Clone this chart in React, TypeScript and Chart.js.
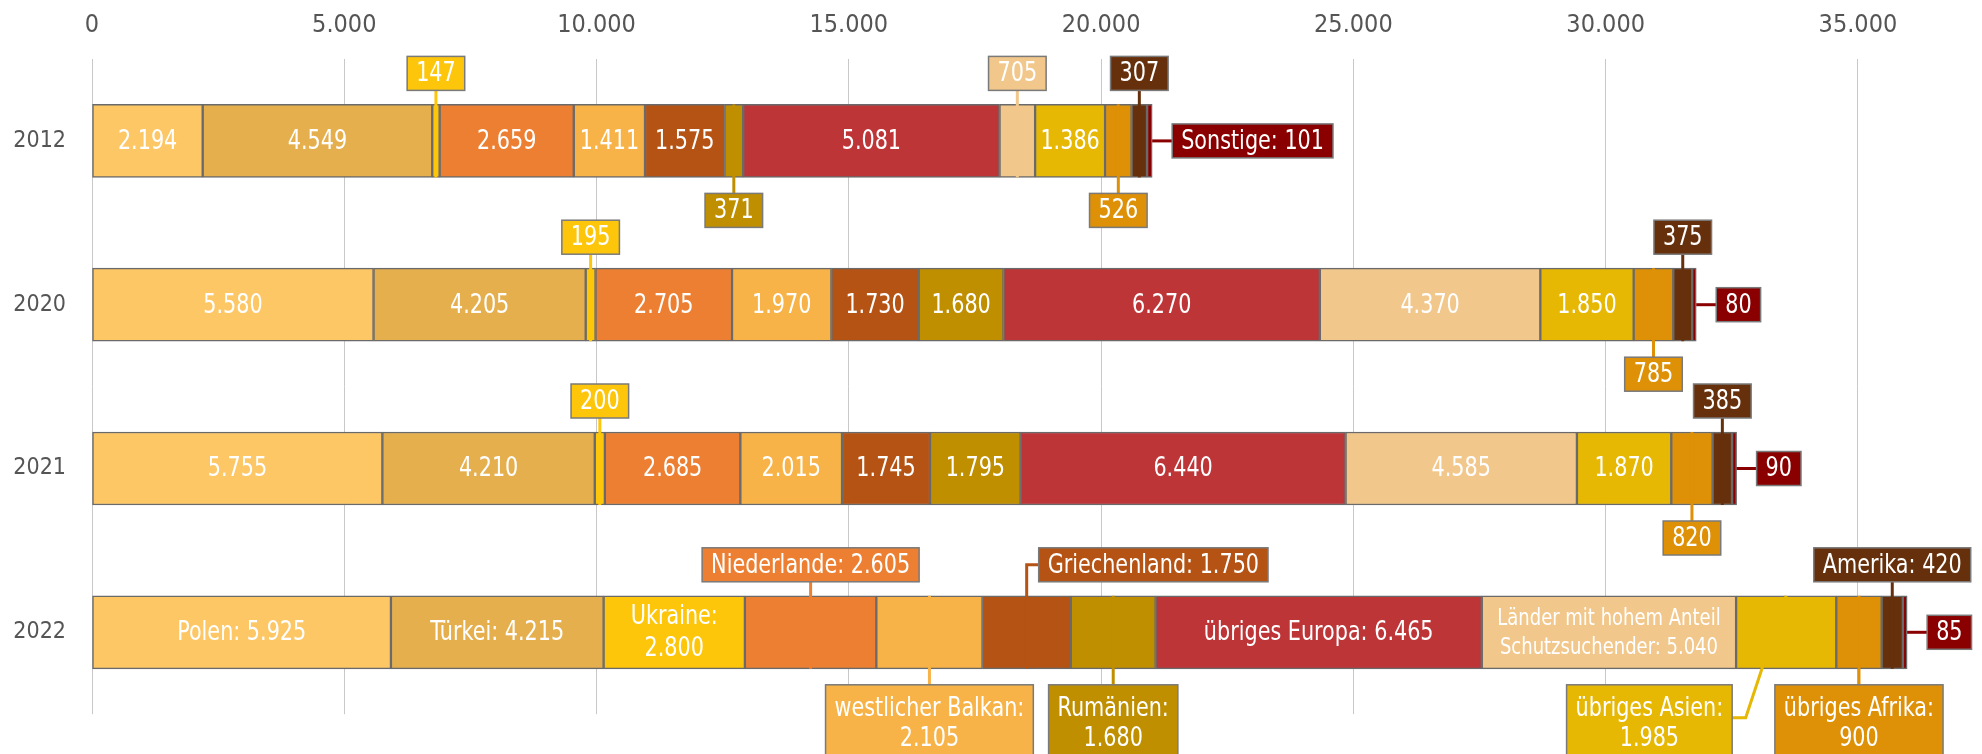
import React, { useEffect, useRef } from 'react';
import { Chart, registerables } from 'chart.js';

Chart.register(...registerables);

// ---------- data ----------
const years = ['2012', '2020', '2021', '2022'];
const seriesNames = [
  'Polen',
  'Türkei',
  'Ukraine',
  'Niederlande',
  'westlicher Balkan',
  'Griechenland',
  'Rumänien',
  'übriges Europa',
  'Länder mit hohem Anteil Schutzsuchender',
  'übriges Asien',
  'übriges Afrika',
  'Amerika',
  'Sonstige',
];
const polen = [2194, 5580, 5755, 5925];
const tuerkei = [4549, 4205, 4210, 4215];
const ukraine = [147, 195, 200, 2800];
const niederlande = [2659, 2705, 2685, 2605];
const westlicherBalkan = [1411, 1970, 2015, 2105];
const griechenland = [1575, 1730, 1745, 1750];
const rumaenien = [371, 1680, 1795, 1680];
const uebrigesEuropa = [5081, 6270, 6440, 6465];
const schutzLaender = [705, 4370, 4585, 5040];
const uebrigesAsien = [1386, 1850, 1870, 1985];
const uebrigesAfrika = [526, 785, 820, 900];
const amerika = [307, 375, 385, 420];
const sonstige = [101, 80, 90, 85];
const xTickValues = [0, 5000, 10000, 15000, 20000, 25000, 30000, 35000];

const seriesValues = [
  polen, tuerkei, ukraine, niederlande, westlicherBalkan, griechenland, rumaenien,
  uebrigesEuropa, schutzLaender, uebrigesAsien, uebrigesAfrika, amerika, sonstige,
];

// ---------- style ----------
const colors = [
  '#FDC766', '#E6AF4E', '#FDC60A', '#EC7F32', '#F7B347', '#B55314', '#BF8F00',
  '#BE3538', '#F2C78B', '#E6B703', '#DE9006', '#67300C', '#8A0000',
];
const FONT = '"DejaVu Sans Condensed", "Liberation Sans Narrow", sans-serif';
const LABEL_SIZE = 26.5;
const SMALL_SIZE = 23;
const SQUEEZE = 0.87; // horizontal condensing of label text

// callout layout (which segments are labelled outside the bar and where)
type Callout = { s: number; i: number; pos: 'top' | 'bottom' | 'right'; elbow?: 'side' | 'diag' };
const callouts: Callout[] = [
  { s: 2, i: 0, pos: 'top' },
  { s: 6, i: 0, pos: 'bottom' },
  { s: 8, i: 0, pos: 'top' },
  { s: 10, i: 0, pos: 'bottom' },
  { s: 11, i: 0, pos: 'top' },
  { s: 12, i: 0, pos: 'right' },
  { s: 2, i: 1, pos: 'top' },
  { s: 10, i: 1, pos: 'bottom' },
  { s: 11, i: 1, pos: 'top' },
  { s: 12, i: 1, pos: 'right' },
  { s: 2, i: 2, pos: 'top' },
  { s: 10, i: 2, pos: 'bottom' },
  { s: 11, i: 2, pos: 'top' },
  { s: 12, i: 2, pos: 'right' },
  { s: 3, i: 3, pos: 'top' },
  { s: 4, i: 3, pos: 'bottom' },
  { s: 5, i: 3, pos: 'top', elbow: 'side' },
  { s: 6, i: 3, pos: 'bottom' },
  { s: 9, i: 3, pos: 'bottom', elbow: 'diag' },
  { s: 10, i: 3, pos: 'bottom' },
  { s: 11, i: 3, pos: 'top' },
  { s: 12, i: 3, pos: 'right' },
];
const twoLine2022 = new Set([2, 4, 6, 9, 10]);

const fmt = (n: number) => String(Math.round(n)).replace(/\B(?=(\d{3})+(?!\d))/g, '.');

function labelLines(s: number, i: number): string[] {
  const v = fmt(seriesValues[s][i]);
  if (i === 3 && s !== 12) {
    if (s === 8) return ['Länder mit hohem Anteil', 'Schutzsuchender: ' + v];
    if (twoLine2022.has(s)) return [seriesNames[s] + ':', v];
    return [seriesNames[s] + ': ' + v];
  }
  if (s === 12 && i === 0) return [seriesNames[s] + ': ' + v];
  return [v];
}

const isCallout = (s: number, i: number) => callouts.some((c) => c.s === s && c.i === i);

function drawText(ctx: CanvasRenderingContext2D, t: string, x: number, y: number, size: number) {
  ctx.save();
  ctx.translate(x, y);
  ctx.scale(SQUEEZE, 1);
  ctx.font = `${size}px ${FONT}`;
  ctx.fillText(t, 0, 0);
  ctx.restore();
}

function textWidth(ctx: CanvasRenderingContext2D, t: string, size: number) {
  ctx.save();
  ctx.font = `${size}px ${FONT}`;
  const w = ctx.measureText(t).width * SQUEEZE;
  ctx.restore();
  return w;
}

const labelPlugin = {
  id: 'segLabels',
  afterDatasetsDraw(chart: any) {
    const ctx: CanvasRenderingContext2D = chart.ctx;
    ctx.save();
    ctx.textAlign = 'center';
    ctx.textBaseline = 'middle';

    // in-bar labels
    seriesValues.forEach((_arr, s) => {
      const meta = chart.getDatasetMeta(s);
      meta.data.forEach((el: any, i: number) => {
        if (isCallout(s, i)) return;
        const { x, base, y } = el.getProps(['x', 'base', 'y'], true);
        const lines = labelLines(s, i);
        const small = s === 8 && i === 3;
        const size = small ? SMALL_SIZE : LABEL_SIZE;
        const lh = small ? 28.5 : 32;
        ctx.fillStyle = '#ffffff';
        const cx = (x + base) / 2;
        lines.forEach((t, k) => drawText(ctx, t, cx, y + 1 + (k - (lines.length - 1) / 2) * lh, size));
      });
    });

    // callouts
    callouts.forEach((c) => {
      const el = chart.getDatasetMeta(c.s).data[c.i];
      const { x, base, y, height } = el.getProps(['x', 'base', 'y', 'height'], true);
      const cx = (x + base) / 2;
      const top = y - height / 2;
      const bot = y + height / 2;
      const lines = labelLines(c.s, c.i);
      const tw = Math.max(...lines.map((t) => textWidth(ctx, t, LABEL_SIZE)));
      const bw = tw + 18;
      const multi = lines.length > 1;
      const bh = multi ? lines.length * 30 + 16 : 34;
      const col = colors[c.s];
      let bx = 0;
      let by = 0;
      ctx.strokeStyle = col;
      ctx.lineWidth = 3;
      ctx.lineJoin = 'miter';
      ctx.beginPath();
      if (c.pos === 'top') {
        by = top - 14 - bh;
        if (c.elbow === 'side') {
          bx = cx + 12;
          ctx.moveTo(cx, bot);
          ctx.lineTo(cx, by + bh / 2);
          ctx.lineTo(bx, by + bh / 2);
        } else {
          bx = cx - bw / 2;
          ctx.moveTo(cx, bot);
          ctx.lineTo(cx, by + bh);
        }
      } else if (c.pos === 'bottom') {
        by = bot + 16;
        if (c.elbow === 'diag') {
          bx = cx - 54 - bw;
          const ey = by + 33;
          ctx.moveTo(cx, top);
          ctx.lineTo(bx + bw + 13.5, ey);
          ctx.lineTo(bx + bw, ey);
        } else {
          bx = cx - bw / 2;
          ctx.moveTo(cx, top);
          ctx.lineTo(cx, by);
        }
      } else {
        bx = x + 20;
        by = y - bh / 2;
        ctx.moveTo(x, y);
        ctx.lineTo(bx, y);
      }
      ctx.stroke();

      ctx.fillStyle = col;
      ctx.fillRect(bx, by, bw, bh);
      ctx.strokeStyle = '#7a7a7a';
      ctx.lineWidth = 1.5;
      ctx.strokeRect(bx, by, bw, bh);

      ctx.fillStyle = '#ffffff';
      const padTop = multi ? 8 : 2;
      lines.forEach((t, k) => drawText(ctx, t, bx + bw / 2, by + padTop + 15 + 1 + k * 30, LABEL_SIZE));
    });
    ctx.restore();
  },
};

export default function App() {
  const ref = useRef<HTMLCanvasElement | null>(null);

  useEffect(() => {
    document.body.style.margin = '0';
    const canvas = ref.current;
    if (!canvas) return;
    const chart = new Chart(canvas, {
      type: 'bar',
      data: {
        labels: years,
        datasets: seriesValues.map((vals, s) => ({
          label: seriesNames[s],
          data: vals,
          backgroundColor: colors[s],
          borderColor: '#6a6a6a',
          borderWidth: 1.5,
          borderSkipped: false,
          barThickness: 73,
        })),
      },
      options: {
        indexAxis: 'y',
        responsive: false,
        animation: false,
        devicePixelRatio: 1,
        layout: { padding: { top: 0, left: 0, right: 8, bottom: 34 } },
        plugins: {
          legend: { display: false },
          tooltip: { enabled: false },
        },
        scales: {
          x: {
            type: 'linear',
            position: 'top',
            stacked: true,
            min: 0,
            max: 37300,
            afterBuildTicks: (scale: any) => {
              scale.ticks = xTickValues.map((v) => ({ value: v }));
            },
            afterFit: (scale: any) => {
              scale.height = 59;
            },
            ticks: {
              color: '#555555',
              font: { family: FONT, size: 25 },
              padding: 19,
              callback: (v: any) => fmt(Number(v)),
            },
            grid: { color: '#c8c8c8', lineWidth: 1, drawTicks: false },
            border: { display: false },
          },
          y: {
            type: 'category',
            stacked: true,
            afterFit: (scale: any) => {
              scale.width = 92;
            },
            ticks: {
              color: '#555555',
              font: { family: FONT, size: 23 },
              padding: 26,
            },
            grid: { display: false, drawTicks: false },
            border: { display: false },
          },
        },
      },
      plugins: [labelPlugin],
    } as any);
    return () => chart.destroy();
  }, []);

  return (
    <div style={{ position: 'fixed', left: 0, top: 0, width: 1982, height: 754, background: '#fff' }}>
      <canvas ref={ref} width={1982} height={754} style={{ display: 'block' }} />
    </div>
  );
}
